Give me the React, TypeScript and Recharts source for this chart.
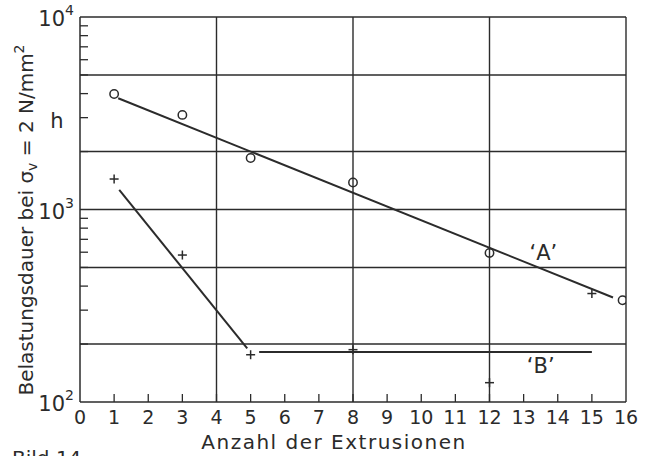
import React from "react";
import {
  ScatterChart, Scatter, XAxis, YAxis, ReferenceLine, ReferenceDot,
} from "recharts";

// axis ticks
const xTicks = [0, 1, 2, 3, 4, 5, 6, 7, 8, 9, 10, 11, 12, 13, 14, 15, 16];
const yTicks = [
  100, 200, 300, 400, 500, 600, 700, 800, 900,
  1000, 2000, 3000, 4000, 5000, 6000, 7000, 8000, 9000, 10000,
];
const yMajor = [100, 1000, 10000];
const xGrid = [4, 8, 12, 16];
const yGrid = [200, 500, 1000, 2000, 5000, 10000];

// measured points (circles = 'A', crosses = 'B')
const aX = [1, 3, 5, 8, 12, 15.9];
const aY = [3980, 3100, 1850, 1380, 594, 338];
const bX = [1, 3, 5, 8, 12, 15];
const bY = [1440, 580, 176, 187, 126, 366];

// drawn trend lines
const fitAX = [1.12, 15.62];
const fitAY = [3784, 349];
const fitB1X = [1.15, 4.9];
const fitB1Y = [1264, 190];
const fitB2X = [5.25, 15];
const fitB2Y = [182, 182];

const toPts = (xs: number[], ys: number[]) => xs.map((x, i) => ({ x, y: ys[i] }));

const INK = "#2b2b2b";
const FONT = "'DejaVu Sans', sans-serif";

const Circle = (p: any) => (
  <circle cx={p.cx} cy={p.cy} r={4.2} fill="none" stroke={INK} strokeWidth={1.5} />
);
const Plus = (p: any) => (
  <g stroke={INK} strokeWidth={1.5}>
    <line x1={p.cx - 4.5} x2={p.cx + 4.5} y1={p.cy} y2={p.cy} />
    <line x1={p.cx} x2={p.cx} y1={p.cy - 4.5} y2={p.cy + 4.5} />
  </g>
);
const NoShape = () => <g />;

const YTick = (p: any) => {
  const { x, y, payload } = p;
  const v = payload.value;
  const major = yMajor.includes(v);
  const exp = Math.round(Math.log10(v));
  return (
    <g>
      {!major && <line x1={x} x2={x + 8} y1={y} y2={y} stroke={INK} strokeWidth={1.3} />}
      {major && (
        <text x={x - 6} y={y + 9} textAnchor="end" fontSize={21} fill={INK} fontFamily={FONT}>
          10
          <tspan fontSize={14} dy={-11}>{exp}</tspan>
        </text>
      )}
    </g>
  );
};

const XTick = (p: any) => {
  const { x, y, payload } = p;
  const v = payload.value;
  return (
    <g>
      {v > 0 && v < 16 && (
        <line x1={x} x2={x} y1={y} y2={y - 8} stroke={INK} strokeWidth={1.3} />
      )}
      <text x={x} y={y + 22} textAnchor="middle" fontSize={19} fill={INK} fontFamily={FONT}>
        {v}
      </text>
    </g>
  );
};

export default function App() {
  return (
    <div
      style={{
        position: "absolute", left: 0, top: 0, width: 648, height: 456,
        background: "#fff", overflow: "hidden",
      }}
    >
      <ScatterChart
        width={648}
        height={456}
        margin={{ top: 17, right: 22, bottom: 14, left: 20 }}
      >
        <XAxis
          type="number"
          dataKey="x"
          domain={[0, 16]}
          ticks={xTicks}
          interval={0}
          tickSize={0}
          tickMargin={0}
          height={40}
          axisLine={{ stroke: INK, strokeWidth: 1.5 }}
          tick={XTick}
          allowDataOverflow
        />
        <YAxis
          type="number"
          dataKey="y"
          scale="log"
          domain={[100, 10000]}
          ticks={yTicks}
          interval={0}
          tickSize={0}
          tickMargin={0}
          width={60}
          axisLine={{ stroke: INK, strokeWidth: 1.5 }}
          tick={YTick}
          allowDataOverflow
        />
        {xGrid.map((v) => (
          <ReferenceLine key={"x" + v} x={v} stroke={INK} strokeWidth={1.4} ifOverflow="extendDomain" />
        ))}
        {yGrid.map((v) => (
          <ReferenceLine key={"y" + v} y={v} stroke={INK} strokeWidth={1.4} ifOverflow="extendDomain" />
        ))}
        <Scatter data={toPts(fitAX, fitAY)} line={{ stroke: INK, strokeWidth: 2 }} shape={NoShape} isAnimationActive={false} />
        <Scatter data={toPts(fitB1X, fitB1Y)} line={{ stroke: INK, strokeWidth: 2 }} shape={NoShape} isAnimationActive={false} />
        <Scatter data={toPts(fitB2X, fitB2Y)} line={{ stroke: INK, strokeWidth: 2 }} shape={NoShape} isAnimationActive={false} />
        <Scatter data={toPts(aX, aY)} shape={Circle} isAnimationActive={false} />
        <Scatter data={toPts(bX, bY)} shape={Plus} isAnimationActive={false} />
        <ReferenceDot
          x={13.58}
          y={600}
          r={0}
          label={{ value: "‘A’", position: "center", fontSize: 21, fill: INK, fontFamily: FONT }}
        />
        <ReferenceDot
          x={13.5}
          y={155}
          r={0}
          label={{ value: "‘B’", position: "center", fontSize: 21, fill: INK, fontFamily: FONT }}
        />
      </ScatterChart>
      <svg
        width={648}
        height={456}
        style={{ position: "absolute", left: 0, top: 0, pointerEvents: "none" }}
        fontFamily={FONT}
        fill={INK}
      >
        <text transform="translate(33,220) rotate(-90)" textAnchor="middle" fontSize={20}>
          Belastungsdauer bei σ
          <tspan fontSize={14} dy={4}>v</tspan>
          <tspan dy={-4}> = 2 N/mm</tspan>
          <tspan fontSize={14} dy={-9}>2</tspan>
        </text>
        <text x={57} y={128} textAnchor="middle" fontSize={21}>h</text>
        <text x={334} y={449} textAnchor="middle" fontSize={20} letterSpacing={1.5}>
          Anzahl der Extrusionen
        </text>
        <text x={12} y={465} fontSize={20}>Bild 14</text>
      </svg>
    </div>
  );
}
